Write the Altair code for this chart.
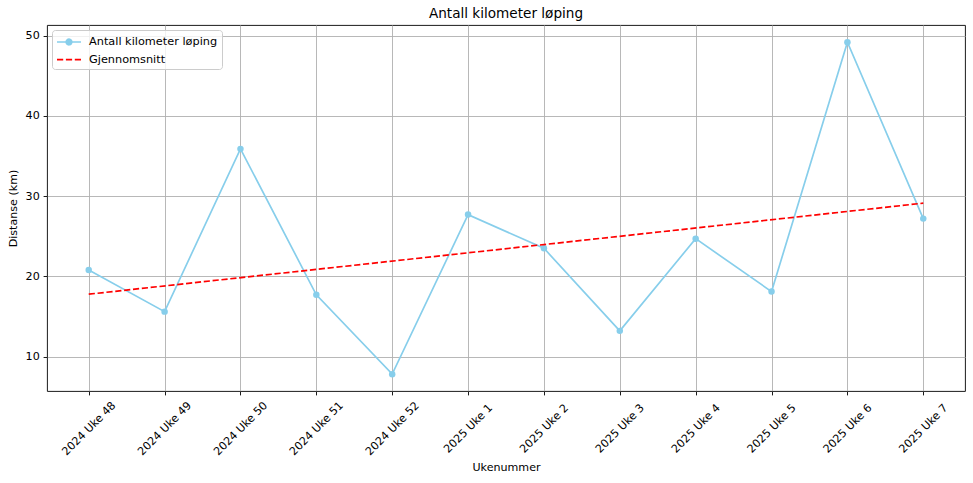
import altair as alt
import pandas as pd

weeks = ["2024 Uke 48", "2024 Uke 49", "2024 Uke 50", "2024 Uke 51", "2024 Uke 52",
         "2025 Uke 1", "2025 Uke 2", "2025 Uke 3", "2025 Uke 4", "2025 Uke 5",
         "2025 Uke 6", "2025 Uke 7"]
km = [20.8, 15.6, 35.9, 17.7, 7.8, 27.7, 23.5, 13.2, 24.7, 18.1, 49.2, 27.2]
series_names = ["Antall kilometer løping", "Gjennomsnitt"]
series_colors = ["#87ceeb", "#ff0000"]
y_ticks = [10, 20, 30, 40, 50]

df = pd.DataFrame({"idx": list(range(len(weeks))), "uke": weeks, "km": km})

FONT = "DejaVu Sans"
FS = 11.1
LW = 1.68
DASH = [6.2, 2.7]
label_expr = "[" + ",".join("'" + w + "'" for w in weeks) + "][datum.value]"

x_enc = alt.X("idx:Q",
              scale=alt.Scale(domain=[-0.55, len(weeks) - 1 + 0.55], nice=False, zero=False),
              axis=alt.Axis(values=list(range(len(weeks))), labelExpr=label_expr,
                            labelAngle=-45, labelAlign="center", labelBaseline="middle",
                            labelPadding=33.5, title="Ukenummer", titlePadding=5,
                            titleFontWeight="normal"))
y_enc = alt.Y("km:Q",
              scale=alt.Scale(domain=[5.7, 51.35], nice=False, zero=False),
              axis=alt.Axis(values=y_ticks, title="Distanse (km)", titlePadding=7,
                            titleFontWeight="normal"))

base = alt.Chart(df)

line = base.mark_line(color=series_colors[0], strokeWidth=LW).encode(x=x_enc, y=y_enc)
points = base.mark_point(filled=True, shape="circle", size=42, color=series_colors[0],
                         opacity=1).encode(x=x_enc, y=y_enc)
trend = base.transform_regression("idx", "km").mark_line(
    color=series_colors[1], strokeWidth=LW, strokeDash=DASH).encode(x=x_enc, y=y_enc)

leg = alt.Legend(title=None, orient="top-left", offset=5, padding=4,
                 fillColor="rgba(255,255,255,0.8)", strokeColor="#cccccc",
                 cornerRadius=3, symbolSize=196, symbolOffset=5, labelOffset=12,
                 rowPadding=2.6, labelFont=FONT, labelFontSize=11.3, labelColor="#000",
                 symbolStrokeWidth=LW)
path_marker = "M-1.714,0L1.714,0M0.4,0A0.4,0.4,0,1,1,-0.4,0A0.4,0.4,0,1,1,0.4,0Z"
path_dash = "M-1.714,0L1.714,0"
legend_layer = base.transform_calculate(serie="'" + series_names[0] + "'").mark_point(
    filled=True, size=0, opacity=1, strokeWidth=LW).encode(
    x=x_enc, y=y_enc,
    fill=alt.Fill("serie:N", scale=alt.Scale(domain=series_names, range=series_colors), legend=leg),
    stroke=alt.Stroke("serie:N", scale=alt.Scale(domain=series_names, range=series_colors), legend=leg),
    shape=alt.Shape("serie:N", scale=alt.Scale(domain=series_names, range=[path_marker, path_dash]), legend=leg),
    strokeDash=alt.StrokeDash("serie:N", scale=alt.Scale(domain=series_names, range=[[1, 0], DASH]), legend=leg),
)

chart = alt.layer(line, points, trend, legend_layer).properties(
    width=918, height=366,
    background="white",
    title=alt.TitleParams("Antall kilometer løping", font=FONT, fontSize=13.6,
                          fontWeight="normal", color="#000", anchor="middle",
                          offset=4.5),
    autosize=alt.AutoSizeParams(type="none"),
    padding={"left": 47, "top": 25, "right": 8, "bottom": 92},
).configure_view(stroke="#000", strokeWidth=0.9).configure_axis(
    labelFont=FONT, labelFontSize=FS, labelColor="#000",
    titleFont=FONT, titleFontSize=FS, titleColor="#000", titleFontWeight="normal",
    grid=True, gridColor="#b0b0b0", gridWidth=0.9,
    domain=False, tickColor="#000", tickWidth=0.9, tickSize=3.9, labelPadding=3.9,
)

chart.save("out.html", embed_options={"renderer": "svg", "actions": False})
